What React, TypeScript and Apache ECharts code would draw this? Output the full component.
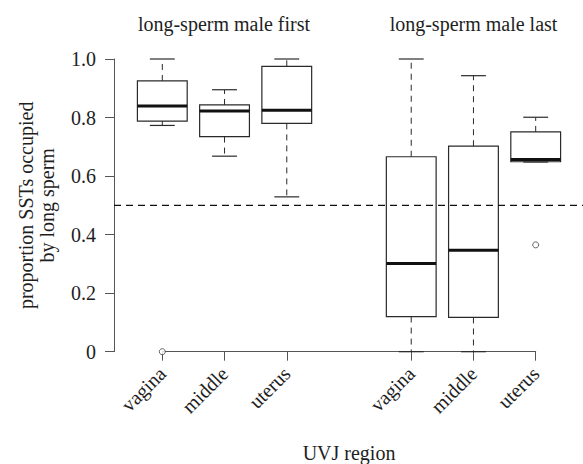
import React, { useEffect, useRef } from "react";
import * as echarts from "echarts";

const groupTitles = ["long-sperm male first", "long-sperm male last"];
const regionLabels = ["vagina", "middle", "uterus", "", "vagina", "middle", "uterus"];
const boxPositions = [0, 1, 2, 4, 5, 6];
const whiskerLow = [0.773, 0.668, 0.529, 0.0, 0.0, 0.648];
const quartile1 = [0.788, 0.735, 0.78, 0.12, 0.117, 0.649];
const medians = [0.839, 0.822, 0.825, 0.301, 0.347, 0.657];
const quartile3 = [0.925, 0.843, 0.975, 0.666, 0.702, 0.751];
const whiskerHigh = [1.0, 0.895, 1.0, 1.0, 0.943, 0.801];
const outlierPositions = [0, 6];
const outlierValues = [0.0, 0.365];
const referenceLevel = 0.5;

const FONT = "Liberation Serif";
const TEXT = "#1e1e1e";
const AXIS = "#555";
const BOX = "#2a2a2a";

export default function App() {
  const ref = useRef<HTMLDivElement>(null);
  useEffect(() => {
    if (!ref.current) return;
    const chart = echarts.init(ref.current, undefined, { renderer: "svg" });
    const boxData = boxPositions.map((p, i) => [
      p,
      whiskerLow[i],
      quartile1[i],
      medians[i],
      quartile3[i],
      whiskerHigh[i],
    ]);
    const renderBox = (params: any, api: any) => {
      const x = api.value(0);
      const lo = api.coord([x, api.value(1)]);
      const q1 = api.coord([x, api.value(2)]);
      const md = api.coord([x, api.value(3)]);
      const q3 = api.coord([x, api.value(4)]);
      const hi = api.coord([x, api.value(5)]);
      const band = api.size([1, 0])[0];
      const half = band * 0.4;
      const cap = band * 0.2;
      const cx = lo[0];
      const dashed = { stroke: BOX, lineWidth: 1, lineDash: [6, 5] };
      const solid = { stroke: BOX, lineWidth: 1.2 };
      return {
        type: "group",
        children: [
          { type: "line", shape: { x1: cx, y1: q3[1], x2: cx, y2: hi[1] }, style: dashed },
          { type: "line", shape: { x1: cx, y1: q1[1], x2: cx, y2: lo[1] }, style: dashed },
          { type: "line", shape: { x1: cx - cap, y1: hi[1], x2: cx + cap, y2: hi[1] }, style: solid },
          { type: "line", shape: { x1: cx - cap, y1: lo[1], x2: cx + cap, y2: lo[1] }, style: solid },
          {
            type: "rect",
            shape: { x: cx - half, y: q3[1], width: half * 2, height: q1[1] - q3[1] },
            style: { fill: "none", stroke: BOX, lineWidth: 1.2 },
          },
          {
            type: "line",
            shape: { x1: cx - half, y1: md[1], x2: cx + half, y2: md[1] },
            style: { stroke: "#111", lineWidth: 3 },
          },
        ],
      };
    };
    const titleStyle = (text: string) => ({
      text,
      fontFamily: FONT,
      fontSize: 20,
      fill: TEXT,
      textAlign: "center",
      textVerticalAlign: "middle",
    });
    const option: any = {
      animation: false,
      textStyle: { fontFamily: FONT },
      grid: [
        { left: 114, right: 0, top: 59, bottom: 112.3, outerBoundsMode: "none", containLabel: false },
        { left: 162.3, right: 47.3, top: 59, bottom: 112.3, outerBoundsMode: "none", containLabel: false },
      ],
      xAxis: [
        { gridIndex: 0, type: "value", min: 0, max: 1, show: false },
        {
          gridIndex: 1,
          type: "category",
          data: regionLabels,
          boundaryGap: false,
          offset: 11.6,
          axisLine: { show: true, lineStyle: { color: AXIS, width: 1 } },
          axisTick: {
            show: true,
            length: 9,
            interval: (i: number) => regionLabels[i] !== "",
            lineStyle: { color: AXIS, width: 1 },
          },
          axisLabel: {
            interval: 0,
            rotate: 45,
            margin: 7,
            fontFamily: FONT,
            fontSize: 20,
            color: TEXT,
          },
          splitLine: { show: false },
          name: "UVJ region",
          nameLocation: "middle",
          nameGap: 80,
          nameTextStyle: { fontFamily: FONT, fontSize: 20, color: TEXT },
        },
      ],
      yAxis: [
        {
          gridIndex: 0,
          type: "value",
          min: 0,
          max: 1,
          interval: 0.2,
          axisLine: { show: true, lineStyle: { color: AXIS, width: 1 } },
          axisTick: { show: true, length: 9, lineStyle: { color: AXIS, width: 1 } },
          axisLabel: {
            margin: 18,
            fontFamily: FONT,
            fontSize: 20,
            color: TEXT,
            formatter: (v: number) => (v === 0 ? "0" : v.toFixed(1)),
          },
          splitLine: { show: false },
          name: "proportion SSTs occupied\nby long sperm",
          nameLocation: "middle",
          nameGap: 57,
          nameTextStyle: { fontFamily: FONT, fontSize: 20, color: TEXT, lineHeight: 21 },
        },
        { gridIndex: 1, type: "value", min: 0, max: 1, show: false },
      ],
      graphic: [
        { type: "text", x: 224, y: 24, style: titleStyle(groupTitles[0]) },
        { type: "text", x: 473.5, y: 24, style: titleStyle(groupTitles[1]) },
      ],
      series: [
        {
          type: "custom",
          xAxisIndex: 1,
          yAxisIndex: 1,
          data: boxData,
          encode: { x: 0, y: [1, 2, 3, 4, 5] },
          renderItem: renderBox,
          z: 2,
        },
        {
          type: "scatter",
          xAxisIndex: 1,
          yAxisIndex: 1,
          data: outlierPositions.map((p, i) => [p, outlierValues[i]]),
          symbol: "circle",
          symbolSize: 6,
          itemStyle: { color: "#fff", borderColor: BOX, borderWidth: 0.9 },
          z: 3,
        },
        {
          type: "line",
          xAxisIndex: 0,
          yAxisIndex: 0,
          data: [
            [0, referenceLevel],
            [1, referenceLevel],
          ],
          symbol: "none",
          lineStyle: { color: "#111", width: 1.2, type: [7, 5] },
          z: 4,
        },
      ],
    };
    chart.setOption(option);
    return () => chart.dispose();
  }, []);
  return (
    <div
      ref={ref}
      style={{ position: "fixed", left: 0, top: 0, width: 583, height: 464, background: "#fff" }}
    />
  );
}
